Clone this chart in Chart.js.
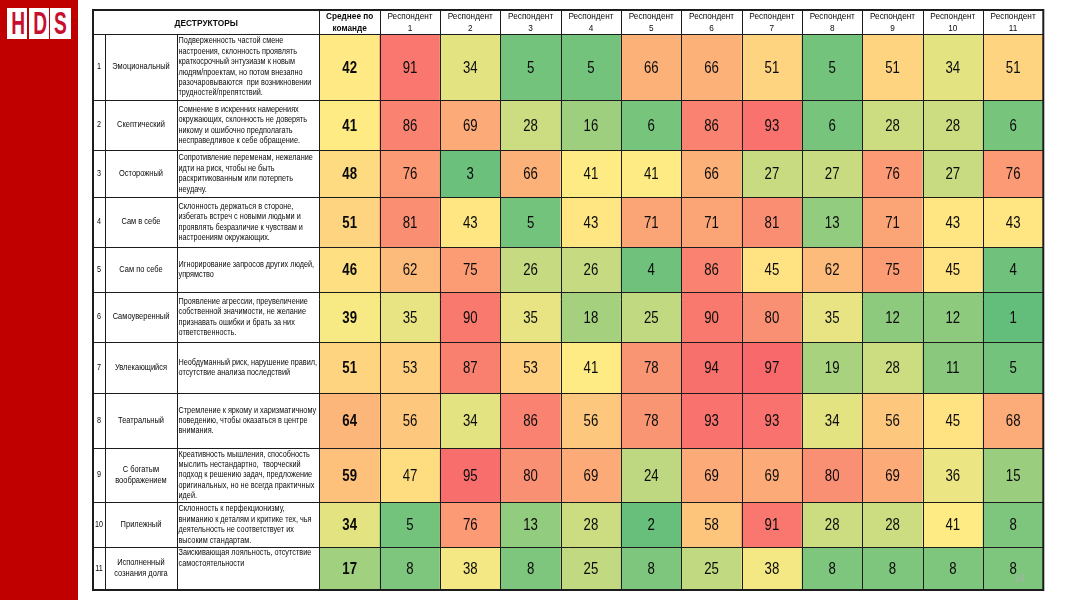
<!DOCTYPE html>
<html>
<head>
<meta charset="utf-8">
<script src="https://cdn.jsdelivr.net/npm/chart.js@4.4.1/dist/chart.umd.min.js"></script>
<style>
    body { margin: 0; width: 1067px; height: 600px; background: #fff; position: relative; overflow: hidden; font-family: 'Liberation Sans', Arial, sans-serif; }
    #side { position: absolute; left: 0; top: 0; width: 78px; height: 600px; background: #c00000; }
    .logo { position: absolute; top: 8px; width: 20px; height: 31px; background: #fff; color: #c8102e; font-weight: bold; font-size: 31px; line-height: 32px; text-align: center; }
    .logo span { display: inline-block; transform: scaleX(0.62); }
    #wrap { position: absolute; left: 92px; top: 9px; width: 953px; height: 583px; }
    #page { position: absolute; left: 1014px; top: 573px; font-size: 10px; color: #a9b1ad; }
</style>
</head>
<body>
<div id="side">
    <div class="logo" style="left:7px"><span>H</span></div>
    <div class="logo" style="left:28.5px"><span>D</span></div>
    <div class="logo" style="left:50px;width:21px"><span>S</span></div>
</div>
<div id="wrap"><canvas id="heat"></canvas></div>
<div id="page">14</div>
<script>
// column headers (tick labels)
const columnLabels = [
    ['Среднее по', 'команде'],
    ['Респондент', '1'], ['Респондент', '2'], ['Респондент', '3'], ['Респондент', '4'],
    ['Респондент', '5'], ['Респондент', '6'], ['Респондент', '7'], ['Респондент', '8'],
    ['Респондент', '9'], ['Респондент', '10'], ['Респондент', '11']
];

const destructors = [
    'Эмоциональный', 'Скептический', 'Осторожный', 'Сам в себе', 'Сам по себе',
    'Самоуверенный', 'Увлекающийся', 'Театральный', 'С богатым\nвоображением',
    'Прилежный', 'Исполненный\nсознания долга'
];

const descriptions = [
    ['Подверженность частой смене', 'настроения, склонность проявлять', 'краткосрочный энтузиазм к новым', 'людям/проектам, но потом внезапно', 'разочаровываются  при возникновении', 'трудностей/препятствий.'],
    ['Сомнение в искренних намерениях', 'окружающих, склонность не доверять', 'никому и ошибочно предполагать', 'несправедливое к себе обращение.'],
    ['Сопротивление переменам, нежелание', 'идти на риск, чтобы не быть', 'раскритикованным или потерпеть', 'неудачу.'],
    ['Склонность держаться в стороне,', 'избегать встреч с новыми людьми и', 'проявлять безразличие к чувствам и', 'настроениям окружающих.'],
    ['Игнорирование запросов других людей,', 'упрямство'],
    ['Проявление агрессии, преувеличение', 'собственной значимости, не желание', 'признавать ошибки и брать за них', 'ответственность.'],
    ['Необдуманный риск, нарушение правил,', 'отсутствие анализа последствий'],
    ['Стремление к яркому и харизматичному', 'поведению, чтобы оказаться в центре', 'внимания.'],
    ['Креативность мышления, способность', 'мыслить нестандартно,  творческий', 'подход к решению задач, предложение', 'оригинальных, но не всегда практичных', 'идей.'],
    ['Склонность к перфекционизму,', 'вниманию к деталям и критике тех, чья', 'деятельность не соответствует их', 'высоким стандартам.'],
    ['Заискивающая лояльность, отсутствие', 'самостоятельности']
];

const teamAverage = [42, 41, 48, 51, 46, 39, 51, 64, 59, 34, 17];

// one row per destructor, respondents 1..11
const scores = [
    [91, 34, 5, 5, 66, 66, 51, 5, 51, 34, 51],
    [86, 69, 28, 16, 6, 86, 93, 6, 28, 28, 6],
    [76, 3, 66, 41, 41, 66, 27, 27, 76, 27, 76],
    [81, 43, 5, 43, 71, 71, 81, 13, 71, 43, 43],
    [62, 75, 26, 26, 4, 86, 45, 62, 75, 45, 4],
    [35, 90, 35, 18, 25, 90, 80, 35, 12, 12, 1],
    [53, 87, 53, 41, 78, 94, 97, 19, 28, 11, 5],
    [56, 34, 86, 56, 78, 93, 93, 34, 56, 45, 68],
    [47, 95, 80, 69, 24, 69, 69, 80, 69, 36, 15],
    [5, 76, 13, 28, 2, 58, 91, 28, 28, 41, 8],
    [8, 38, 8, 25, 8, 25, 38, 8, 8, 8, 8]
];

// layout only: row heights in px, and which description sits at the top of its cell
const rowHeights = [66, 50, 47, 50, 45, 50, 51, 55, 54, 45, 43];
const descAtTop = [false, false, false, false, false, false, false, false, false, false, true];

const tops = [];
let acc = 0;
rowHeights.forEach(h => { tops.push(acc); acc += h; });
const tableHeight = acc;

// excel-like 3 colour scale: min green, median yellow, max red
const sorted = scores.flat().sort((a, b) => a - b);
const lo = sorted[0], hi = sorted[sorted.length - 1], mid = sorted[Math.floor(sorted.length / 2)];

function mix(a, b, t) {
    t = Math.max(0, Math.min(1, t));
    return a.map((v, i) => Math.round(v + (b[i] - v) * t));
}

function heatColor(v) {
    const green = [99, 190, 123], yellow = [255, 235, 132], red = [248, 105, 107];
    const c = v <= mid ? mix(green, yellow, (v - lo) / (mid - lo)) : mix(yellow, red, (v - mid) / (hi - mid));
    return 'rgb(' + c.join(',') + ')';
}

function txt(ctx, s, px, py, size, bold, align, sx) {
    ctx.save();
    ctx.translate(px, py);
    ctx.scale(sx, 1);
    ctx.font = (bold ? 'bold ' : '') + size + 'px "Liberation Sans", Arial, sans-serif';
    ctx.textAlign = align;
    ctx.textBaseline = 'middle';
    ctx.fillStyle = '#0a0a0a';
    ctx.fillText(s, 0, 0);
    ctx.restore();
}

const datasets = destructors.map((name, i) => {
    const values = [teamAverage[i]].concat(scores[i]);
    return {
        label: name,
        values: values,
        data: values.map(() => [tops[i], tops[i] + rowHeights[i]]),
        backgroundColor: c => heatColor(values[c.dataIndex]),
        borderWidth: 0,
        grouped: false,
        barPercentage: 1,
        categoryPercentage: 1
    };
});

const numX = 1, nameX = 13, descX = 85;

const tablePlugin = {
    id: 'tableText',
    afterDatasetsDraw(chart) {
        const ctx = chart.ctx, xs = chart.scales.x, ys = chart.scales.y, area = chart.chartArea;
        const colW = xs.getPixelForValue(1) - xs.getPixelForValue(0);
        const headBottom = area.top;

        // header row
        txt(ctx, 'ДЕСТРУКТОРЫ', (numX + area.left) / 2, headBottom / 2 + 1.5, 9.8, true, 'center', 0.85);
        columnLabels.forEach((lines, j) => {
            const cx = xs.getPixelForValue(j);
            lines.forEach((l, k) => txt(ctx, l, cx, 7.5 + k * 11.5, 9.8, j === 0, 'center', 0.84));
        });

        // rows
        destructors.forEach((name, i) => {
            const yTop = ys.getPixelForValue(tops[i]);
            const yBot = ys.getPixelForValue(tops[i] + rowHeights[i]);
            const cy = (yTop + yBot) / 2;

            txt(ctx, String(i + 1), (numX + nameX) / 2, cy, 8.5, false, 'center', 0.85);

            const nl = name.split('\n');
            nl.forEach((l, k) => txt(ctx, l, (nameX + descX) / 2, cy + (k - (nl.length - 1) / 2) * 11, 9, false, 'center', 0.83));

            const dl = descriptions[i];
            const lh = 10.4;
            const first = descAtTop[i] ? yTop + 6 : cy - (dl.length - 1) * lh / 2;
            dl.forEach((l, k) => txt(ctx, l, descX + 1.5, first + k * lh, 9, false, 'left', 0.81));

            chart.data.datasets[i].values.forEach((v, j) => {
                txt(ctx, String(v), xs.getPixelForValue(j), cy + 1, 16.5, j === 0, 'center', 0.8);
            });
        });

        // grid lines
        ctx.save();
        ctx.strokeStyle = '#1c1c1c';
        ctx.lineWidth = 1;
        ctx.beginPath();
        const r = v => Math.round(v) + 0.5;
        tops.forEach(t => {
            const yy = r(ys.getPixelForValue(t));
            ctx.moveTo(numX, yy); ctx.lineTo(area.right, yy);
        });
        [nameX, descX].forEach(x => {
            ctx.moveTo(r(x), headBottom); ctx.lineTo(r(x), area.bottom);
        });
        for (let j = 0; j < columnLabels.length; j++) {
            const x = r(xs.getPixelForValue(j) - colW / 2);
            ctx.moveTo(x, 0); ctx.lineTo(x, area.bottom);
        }
        ctx.stroke();
        ctx.lineWidth = 2;
        ctx.strokeRect(numX, 1, area.right - numX, area.bottom - 1);
        ctx.restore();
    }
};

new Chart(document.getElementById('heat'), {
    type: 'bar',
    data: {
        labels: columnLabels,
        datasets: datasets
    },
    options: {
        responsive: true,
        maintainAspectRatio: false,
        animation: false,
        layout: { padding: { left: 227.5, top: 25, right: 1.7, bottom: 2 } },
        plugins: { legend: { display: false }, tooltip: { enabled: false } },
        scales: {
            x: { type: 'category', display: false },
            y: { type: 'linear', display: false, min: 0, max: tableHeight, reverse: true }
        }
    },
    plugins: [tablePlugin]
});
</script>
</body>
</html>
